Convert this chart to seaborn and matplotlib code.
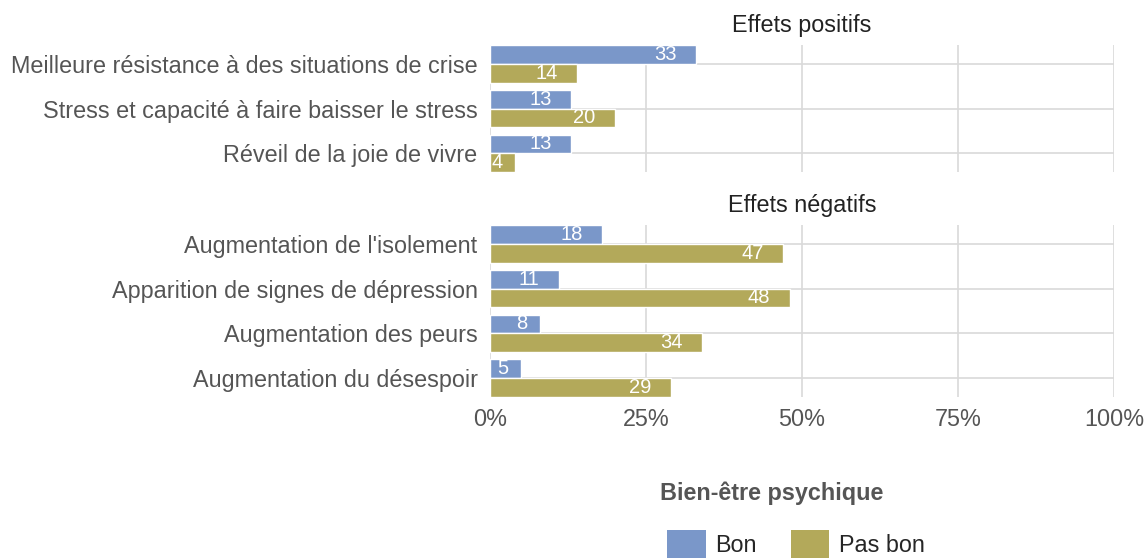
import pandas as pd
import seaborn as sns
import matplotlib.pyplot as plt
from matplotlib.patches import Patch

# data
pos_labels = ['Meilleure résistance à des situations de crise',
              'Stress et capacité à faire baisser le stress',
              'Réveil de la joie de vivre']
pos_bon = [33, 13, 13]
pos_pasbon = [14, 20, 4]

neg_labels = ["Augmentation de l'isolement",
              'Apparition de signes de dépression',
              'Augmentation des peurs',
              'Augmentation du désespoir']
neg_bon = [18, 11, 8, 5]
neg_pasbon = [47, 48, 34, 29]

groups = ['Bon', 'Pas bon']
colors = ['#7a97c9', '#b3a95a']
x_ticks = [0, 25, 50, 75, 100]

sns.set_style('white')
plt.rcParams['font.family'] = ['Liberation Sans', 'DejaVu Sans']


def make_df(labels, bon, pasbon):
    rows = []
    for lab, b, p in zip(labels, bon, pasbon):
        rows.append({'effet': lab, 'groupe': 'Bon', 'pct': b})
        rows.append({'effet': lab, 'groupe': 'Pas bon', 'pct': p})
    return pd.DataFrame(rows)


fig = plt.figure(figsize=(11.45, 5.59), dpi=100)
ax1 = fig.add_axes([0.428, 0.692, 0.545, 0.2275])
ax2 = fig.add_axes([0.428, 0.290, 0.545, 0.3075])

panels = [(ax1, 'Effets positifs', pos_labels, pos_bon, pos_pasbon),
          (ax2, 'Effets négatifs', neg_labels, neg_bon, neg_pasbon)]

for ax, title, labels, bon, pasbon in panels:
    df = make_df(labels, bon, pasbon)
    sns.barplot(data=df, y='effet', x='pct', hue='groupe', hue_order=groups,
                palette=colors, orient='h', width=0.84, ax=ax, legend=False,
                saturation=1, errorbar=None)
    n = len(labels)
    ax.set_ylim(n - 0.58, -0.42)
    ax.set_xlim(0, 100)
    ax.set_xticks(x_ticks)
    ax.set_xticklabels([f'{t}%' for t in x_ticks])
    ax.set_yticks(range(n))
    ax.set_yticklabels(labels)
    ax.set_xlabel('')
    ax.set_ylabel('')
    ax.set_title(title, fontsize=16.8, color='#222222', pad=9)
    ax.grid(True, axis='both', color='#d9d9d9', linewidth=1.2)
    ax.set_axisbelow(True)
    for s in ax.spines.values():
        s.set_visible(False)
    ax.tick_params(axis='y', length=2, color='#d9d9d9', labelsize=16.8,
                   labelcolor='#555555', pad=7)
    ax.tick_params(axis='x', length=0, labelsize=16.8, labelcolor='#555555', pad=8)

    # value labels, white inside the bars
    for i in range(n):
        for k, vals in enumerate([bon, pasbon]):
            v = vals[i]
            yy = i + (-0.21 if k == 0 else 0.21)
            xx = v - 3.1 if v >= 10 else v - 2.0
            ax.text(xx, yy, str(v), ha='right', va='center', color='white',
                    fontsize=14.5)

ax1.tick_params(axis='x', labelbottom=False)

handles = [Patch(facecolor=c, edgecolor='none') for c in colors]
leg = fig.legend(handles, groups, loc='lower left',
                 bbox_to_anchor=(0.568, -0.0275), ncol=2, frameon=False,
                 title='Bien-être psychique', fontsize=16.8,
                 title_fontproperties={'weight': 'bold', 'size': 16.8},
                 handlelength=1.67, handleheight=1.45, columnspacing=1.46,
                 handletextpad=0.4, borderaxespad=0)
leg.get_title().set_color('#555555')
leg._legend_box.align = 'left'
leg._legend_box.sep = 13
# entries sit a little to the right of the title
leg._legend_handle_box.pad = 5

fig.savefig('out.png', dpi=100)
